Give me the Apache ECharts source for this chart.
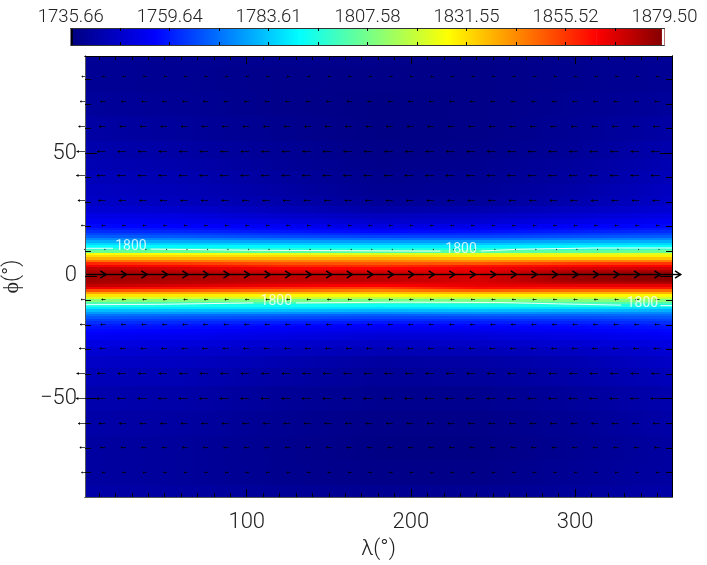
<!DOCTYPE html>
<html>
<head>
<meta charset="utf-8">
<style>html,body{margin:0;padding:0;background:#fff}#c{width:707px;height:565px}</style>
<script src="https://cdn.jsdelivr.net/npm/echarts@6/dist/echarts.min.js"></script>
</head>
<body>
<div id="c"></div>
<script>
// ---------- data ----------
const scaleMin = 1735.66;
const scaleMax = 1879.5;
const scaleLabels = [1735.66, 1759.64, 1783.61, 1807.58, 1831.55, 1855.52, 1879.5];
const scaleTicks = [1747.65, 1759.64, 1771.62, 1783.61, 1795.59, 1807.58, 1819.57, 1831.55, 1843.54, 1855.52, 1867.51];
const paletteValues = [1735.66, 1756, 1791, 1827, 1863, 1879.5];
const paletteColors = ['#000080', '#0000ff', '#00ffff', '#ffff00', '#ff0000', '#800000'];
const barEndColors = ['#000000', '#ffffff'];

const lonMajor = [100, 200, 300];
const lonMinor = [10,20,30,40,50,60,70,80,90,110,120,130,140,150,160,170,180,190,210,220,230,240,250,260,270,280,290,310,320,330,340,350];
const latMajor = [50, 0, -50];
const latMinor = [80,70,60,40,30,20,10,-10,-20,-30,-40,-60,-70,-80];

const fieldLons = [1.5, 60, 120, 180, 240, 300, 358.5];
const fieldLats = [90,80,70,60,50,45,40,35,30,27,24,22,20,19,18,17,16,15,14,13,12,11,10,9,8,7,6,5,4,3,2,1,0,-1,-2,-3,-4,-5,-6,-7,-8,-9,-10,-11,-12,-13,-14,-15,-16,-17,-18,-19,-20,-21,-22,-23.5,-25,-27.5,-30,-35,-40,-50,-60,-70,-80,-90];
const fieldValues = [
 [1739,1738.5,1738,1737.5,1737,1738,1739],
 [1739,1738.5,1737.5,1737,1737,1738,1739],
 [1740,1739,1737.5,1736.5,1737,1738.5,1740],
 [1741.5,1740,1738,1736.5,1737,1739,1741.5],
 [1743,1741.5,1739,1737,1737.5,1739.5,1743],
 [1744,1742.5,1739.5,1737.5,1738,1740.5,1744],
 [1745,1743.5,1740.5,1738,1738.5,1741,1745],
 [1746,1744.5,1741.5,1738.5,1739,1742,1746],
 [1747,1745.5,1742.5,1739.5,1740,1743,1747],
 [1749,1748,1745,1742,1743,1746,1749],
 [1752,1751,1748,1745.5,1746.5,1749,1752],
 [1754.5,1753.5,1751,1748,1749,1752,1754.5],
 [1757,1756,1754,1751,1752.5,1755,1757],
 [1759.5,1758.5,1756.5,1754,1755,1757.5,1759.5],
 [1762,1761,1759,1757,1758,1760,1762],
 [1765.5,1764.5,1762.5,1761,1761.5,1763.5,1765.5],
 [1769,1768,1766,1765,1765,1767,1769],
 [1775,1774,1772,1771,1771,1773,1775],
 [1780,1779,1778,1777,1777,1779,1780],
 [1786,1785,1784,1783,1783,1785,1786],
 [1791,1790,1790,1789,1789,1790,1792],
 [1798,1797,1796,1795,1795,1797,1799],
 [1806,1805,1804,1803,1803,1804,1806],
 [1827,1826,1824,1822,1823,1823,1823],
 [1832,1832,1832,1833,1829,1829,1829],
 [1838,1838,1838,1839,1836,1835,1835],
 [1847,1846,1845,1845,1843,1845,1845],
 [1858,1855,1852,1851,1851,1855,1856],
 [1865,1862,1858,1857,1860,1862,1863],
 [1871,1868,1864,1863,1864,1868,1869],
 [1874,1871,1868,1868,1866,1873,1874],
 [1875,1873,1870,1870,1867,1875,1877],
 [1875.5,1874,1871,1871,1868,1876,1878.5],
 [1875.5,1874,1871,1871,1868,1876,1878.5],
 [1875,1873,1871,1871,1868,1875,1877],
 [1874,1872,1869,1868,1867,1872,1873],
 [1871,1868,1865,1863,1866,1866,1866],
 [1865,1861,1857,1854,1862,1860,1860],
 [1852,1850,1848,1845,1850,1848,1848],
 [1840,1839,1837,1836,1838,1838,1838],
 [1831,1830,1828,1826,1829,1828,1828],
 [1822,1821,1820,1818,1820,1820,1820],
 [1810,1809,1808,1807,1808,1809,1810],
 [1802,1801,1800,1799,1800,1802,1802],
 [1795,1794,1793,1793,1794,1795,1795],
 [1788,1788,1788,1787,1788,1787,1786],
 [1782,1782,1782,1781,1782,1781,1780],
 [1777,1777,1776,1775,1776,1775,1775],
 [1772,1771,1770,1769,1770,1770,1771],
 [1768.5,1767.5,1766.5,1765.5,1766,1766.5,1768],
 [1765,1764,1763,1762,1762,1763,1765],
 [1762.5,1761.5,1760,1759,1759.5,1760.5,1762.5],
 [1760,1759,1757.5,1756,1757,1758,1760],
 [1758.5,1757.5,1755.5,1754,1755,1756.5,1758.5],
 [1757,1756,1754,1752.5,1753,1755,1757],
 [1755.5,1754.5,1752.5,1750.5,1751,1753,1755.5],
 [1754,1753,1751,1749,1749.5,1751.5,1754],
 [1751.5,1750.5,1748.5,1746.5,1747,1749,1751.5],
 [1749,1748,1746,1744,1744.5,1746,1749],
 [1747,1746,1743.5,1741,1741.5,1743.5,1747],
 [1745,1744,1741.5,1739.5,1740,1742,1745],
 [1743,1742,1739.5,1738,1738,1740,1743],
 [1742,1741,1738.5,1737,1737,1739,1742],
 [1741,1740,1738,1736.5,1736.5,1738.5,1741],
 [1741,1740,1738,1737,1737,1739,1741],
 [1742,1741,1739.5,1738.5,1738.5,1740,1742]
];

const arrowLons = [1.5,14,26.5,39,51.5,64,76.5,89,101.5,114,126.5,139,151.5,164,176.5,189,201.5,214,226.5,239,251.5,264,276.5,289,301.5,314,326.5,339,351.5];
const arrowLats = [81.3,71.2,61,50.9,41,30.9,20.7,10.9,0.7,-9.6,-19.5,-29.5,-39.6,-49.8,-59.7,-69.8,-79.9];
const arrowU    = [-2,-3,-4,-5.2,-5.4,-4.4,-2.3,-0.6,12.8,-2.4,-3,-3.6,-5.2,-5.6,-4.2,-3.2,-2.2];

const contourTop = [[1.5,11.23],[18.6,11.25],null,[41.5,10.9],[106,10.42],[199,10.13],[218,10.1],null,[242.7,10.13],[265.8,10.83],[311.5,11.36],[359,11.36]];
const contourBottom = [[1.5,-11.7],[45,-11.6],[104,-11],null,[130,-11],[197,-10.7],[255,-10.85],[290,-11.4],[328,-11.9],null,[352,-12.1],[359,-12.1]];
const contourLabels = [[29.5,11.8],[230.5,10.7],[118,-10.4],[341,-11.2]];
const contourLevel = '1800';

// ---------- helpers ----------
const FONT = 'Roboto';
const WEIGHT = 300;
const TXT = '#222';
function valueColor(v) {
  let i = 0;
  while (i < paletteValues.length - 2 && v > paletteValues[i + 1]) i++;
  const t = Math.max(0, Math.min(1, (v - paletteValues[i]) / (paletteValues[i + 1] - paletteValues[i])));
  return echarts.color.lerp(t, [paletteColors[i], paletteColors[i + 1]]);
}
const LON0 = 1.5, LON1 = 359, LAT0 = -90, LAT1 = 89.5;

function xAxisCfg(pos, ticks, len, labels) {
  return {
    type: 'value', gridIndex: 0, position: pos, min: LON0, max: LON1, z: 20,
    splitLine: {show: false},
    axisLine: {show: true, onZero: false, lineStyle: {color: pos === 'top' ? '#000' : '#555', width: 1}},
    axisTick: {show: true, inside: true, length: len, customValues: ticks, lineStyle: {color: '#000', width: 1}},
    axisLabel: labels ? {show: true, customValues: labels, margin: 14, fontFamily: FONT, fontWeight: WEIGHT, fontSize: 22, color: TXT} : {show: false}
  };
}
function yAxisCfg(pos, ticks, len, labels) {
  return {
    type: 'value', gridIndex: 0, position: pos, min: LAT0, max: LAT1, z: 20,
    splitLine: {show: false},
    axisLine: {show: true, onZero: false, lineStyle: {color: pos === 'right' ? '#000' : '#555', width: 1}},
    axisTick: {show: true, inside: true, length: len, customValues: ticks, lineStyle: {color: '#000', width: 1}},
    axisLabel: labels ? {show: true, customValues: labels, margin: 8, padding: [8, 0, 0, 0], fontFamily: FONT, fontWeight: WEIGHT, fontSize: 22, color: TXT,
      formatter: v => String(v).replace('-', '\u2212')} : {show: false}
  };
}
function barAxisCfg(pos, labels) {
  return {
    type: 'value', gridIndex: 1, position: pos, min: scaleMin, max: scaleMax, z: 20,
    splitLine: {show: false},
    axisLine: {show: true, onZero: false, lineStyle: {color: '#333', width: 1}},
    axisTick: {show: true, inside: true, length: 3, customValues: scaleTicks, lineStyle: {color: '#000', width: 1}},
    axisLabel: labels ? {show: true, customValues: scaleLabels, margin: 1, fontFamily: FONT, fontWeight: WEIGHT, fontSize: 18.5, color: TXT,
      formatter: v => v.toFixed(2)} : {show: false}
  };
}

const xAxes = [
  xAxisCfg('bottom', lonMajor, 8, lonMajor),
  xAxisCfg('bottom', lonMinor, 4),
  xAxisCfg('top', lonMajor, 8),
  xAxisCfg('top', lonMinor, 4),
  barAxisCfg('top', true),
  barAxisCfg('bottom', false)
];
Object.assign(xAxes[0], {name: '\u03bb(\u00b0)', nameLocation: 'middle', nameGap: 41,
  nameTextStyle: {fontFamily: FONT, fontWeight: WEIGHT, fontSize: 22, color: TXT}});

const yAxes = [
  yAxisCfg('left', latMajor, 12, latMajor),
  yAxisCfg('left', latMinor, 6),
  yAxisCfg('right', latMajor, 12),
  yAxisCfg('right', latMinor, 6),
  {type: 'value', gridIndex: 1, min: 0, max: 1, show: false}
];
Object.assign(yAxes[0], {name: '\u03d5(\u00b0)', nameLocation: 'middle', nameGap: 62, nameRotate: 90,
  nameTextStyle: {fontFamily: FONT, fontWeight: WEIGHT, fontSize: 22, color: TXT}});

function latEdge(i, side) {
  const lat = fieldLats[i];
  const n = fieldLats[i + side];
  return n === undefined ? lat : (lat + n) / 2;
}

const heatSeries = {
  type: 'custom', coordinateSystem: 'cartesian2d', xAxisIndex: 0, yAxisIndex: 0, clip: true, z: 2,
  silent: true, animation: false,
  encode: {x: 0, y: 1},
  data: fieldLats.map((lat, i) => [fieldLons[0], lat, i]),
  renderItem(params, api) {
    const i = api.value(2);
    const a = api.coord([fieldLons[0], latEdge(i, -1)]);
    const b = api.coord([fieldLons[fieldLons.length - 1], latEdge(i, 1)]);
    const span = fieldLons[fieldLons.length - 1] - fieldLons[0];
    const top = Math.round(a[1]), bot = Math.round(b[1]);
    return {
      type: 'rect',
      shape: {x: a[0], y: top, width: b[0] - a[0] + 1, height: bot - top},
      style: {fill: {type: 'linear', x: 0, y: 0, x2: 1, y2: 0, global: false,
        colorStops: fieldLons.map((lon, j) => ({offset: (lon - fieldLons[0]) / span, color: valueColor(fieldValues[i][j])}))}}
    };
  }
};

const arrowData = [];
arrowLats.forEach((lat, r) => arrowLons.forEach(lon => arrowData.push([lon, lat, arrowU[r]])));
const arrowSeries = {
  type: 'custom', coordinateSystem: 'cartesian2d', xAxisIndex: 0, yAxisIndex: 0, clip: false, z: 5,
  silent: true, animation: false,
  encode: {x: 0, y: 1},
  data: arrowData,
  renderItem(params, api) {
    const lon = api.value(0), lat = api.value(1), u = api.value(2);
    const p = api.coord([lon, lat]);
    const q = api.coord([lon + u, lat]);
    const len = q[0] - p[0];
    const big = Math.abs(len) > 12;
    const h = 0.27 * len;
    const hw = big ? 3.6 : 1.4;
    const y = Math.round(p[1]) + 0.5;
    const head = big
      ? {type: 'polyline', shape: {points: [[q[0] - h, y - hw], [q[0], y], [q[0] - h, y + hw]]},
         style: {stroke: '#000', fill: null, lineWidth: 1.5}}
      : {type: 'polygon', shape: {points: [[q[0] - h, y - hw], [q[0], y], [q[0] - h, y + hw]]},
         style: {fill: '#000'}};
    return {
      type: 'group',
      children: [
        {type: 'line', shape: {x1: p[0], y1: y, x2: q[0], y2: y},
         style: {stroke: big ? '#000' : 'rgba(0,0,0,0.7)', lineWidth: big ? 1.4 : 1}},
        head
      ]
    };
  }
};

function contourSeries(points) {
  return {
    type: 'line', xAxisIndex: 0, yAxisIndex: 0, data: points.map(p => p === null ? [null, null] : p),
    showSymbol: false, symbol: 'none', connectNulls: false, clip: true, z: 4, silent: true, animation: false,
    lineStyle: {color: '#ffffff', width: 1, opacity: 0.9}
  };
}
const labelSeries = {
  type: 'scatter', xAxisIndex: 0, yAxisIndex: 0, data: contourLabels, symbolSize: 1, z: 6, silent: true, animation: false,
  itemStyle: {color: 'rgba(0,0,0,0)'},
  label: {show: true, position: 'inside', formatter: contourLevel, color: '#fff', fontFamily: FONT, fontWeight: 400, fontSize: 14}
};

const barSegments = paletteValues.slice(0, -1).map((v, i) => [v, paletteValues[i + 1], i]);
const barSeries = {
  type: 'custom', coordinateSystem: 'cartesian2d', xAxisIndex: 4, yAxisIndex: 4, clip: true, z: 2,
  silent: true, animation: false,
  encode: {x: 0},
  data: barSegments,
  renderItem(params, api) {
    const a = api.coord([api.value(0), 1]);
    const b = api.coord([api.value(1), 0]);
    const i = api.value(2);
    return {
      type: 'rect', shape: {x: a[0], y: a[1], width: b[0] - a[0] + 0.5, height: b[1] - a[1]},
      style: {fill: {type: 'linear', x: 0, y: 0, x2: 1, y2: 0, global: false, colorStops: [
        {offset: 0, color: paletteColors[i]}, {offset: 1, color: paletteColors[i + 1]}]}}
    };
  }
};
const barEnds = {
  type: 'custom', coordinateSystem: 'cartesian2d', xAxisIndex: 4, yAxisIndex: 4, clip: true, z: 3,
  silent: true, animation: false,
  encode: {x: 0},
  data: [[scaleMin, scaleMin + 0.5], [scaleMax - 0.6, scaleMax]],
  renderItem(params, api) {
    const a = api.coord([api.value(0), 1]);
    const b = api.coord([api.value(1), 0]);
    return {type: 'rect', shape: {x: a[0], y: a[1], width: b[0] - a[0], height: b[1] - a[1]},
      style: {fill: barEndColors[params.dataIndex]}};
  }
};

const chart = echarts.init(document.getElementById('c'), null, {renderer: 'canvas'});
chart.setOption({
  backgroundColor: '#fff',
  animation: false,
  tooltip: {show: false},
  grid: [
    {left: 85, right: 35, top: 56, bottom: 68, containLabel: false, outerBoundsMode: 'none'},
    {left: 70.7, right: 42.6, top: 28, height: 17, containLabel: false, outerBoundsMode: 'none'}
  ],
  xAxis: xAxes,
  yAxis: yAxes,
  series: [heatSeries, contourSeries(contourTop), contourSeries(contourBottom), labelSeries, arrowSeries, barSeries, barEnds]
});
</script>
</body>
</html>
